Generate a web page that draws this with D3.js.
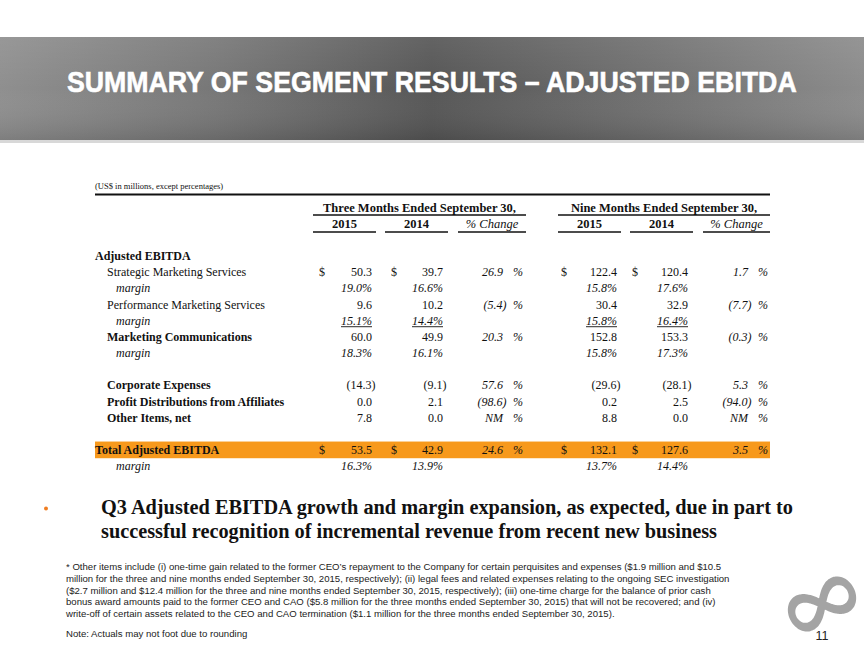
<!DOCTYPE html>
<html><head><meta charset="utf-8">
<script src="https://cdn.jsdelivr.net/npm/d3@7"></script>
<style>
html,body{margin:0;padding:0;background:#fff;}
svg{display:block;}
</style></head>
<body>
<svg id="c" width="864" height="648"></svg>
<script>
// ---------------- DATA ----------------
const titleText = "SUMMARY OF SEGMENT RESULTS \u2013 ADJUSTED EBITDA";
const unitsNote = "(US$ in millions, except percentages)";
const periodHeaders = ["Three Months Ended September 30,", "Nine Months Ended September 30,"];
const subHeaders = ["2015", "2014", "% Change", "2015", "2014", "% Change"];

const rowLabels = ["Adjusted EBITDA", "Strategic Marketing Services", "margin",
  "Performance Marketing Services", "margin", "Marketing Communications", "margin", "",
  "Corporate Expenses", "Profit Distributions from Affiliates", "Other Items, net", "",
  "Total Adjusted EBITDA", "margin"];
const rowKinds = ["section", "item", "margin", "item", "marginU", "itemBold", "margin", "blank",
  "itemBold", "itemBold", "itemBold", "blank", "total", "margin"];
const dollarRows = [1, 12];

const q3_2015   = [null, 50.3, 19.0, 9.6, 15.1, 60.0, 18.3, null, -14.3, 0.0, 7.8, null, 53.5, 16.3];
const q3_2014   = [null, 39.7, 16.6, 10.2, 14.4, 49.9, 16.1, null, -9.1, 2.1, 0.0, null, 42.9, 13.9];
const q3_change = [null, 26.9, null, -5.4, null, 20.3, null, null, 57.6, -98.6, "NM", null, 24.6, null];
const ytd_2015   = [null, 122.4, 15.8, 30.4, 15.8, 152.8, 15.8, null, -29.6, 0.2, 8.8, null, 132.1, 13.7];
const ytd_2014   = [null, 120.4, 17.6, 32.9, 16.4, 153.3, 17.3, null, -28.1, 2.5, 0.0, null, 127.6, 14.4];
const ytd_change = [null, 1.7, null, -7.7, null, -0.3, null, null, 5.3, -94.0, "NM", null, 3.5, null];

const bulletLines = ["Q3 Adjusted EBITDA growth and margin expansion, as expected, due in part to",
  "successful recognition of incremental revenue from recent new business"];
const footnoteLines = [
  "* Other items include (i) one-time gain related to the former CEO\u2019s repayment to the Company for certain perquisites and expenses ($1.9 million and $10.5",
  "million for the three and nine months ended September 30, 2015, respectively); (ii) legal fees and related expenses relating to the ongoing SEC investigation",
  "($2.7 million and $12.4 million for the three and nine months ended September 30, 2015, respectively); (iii) one-time charge for the balance of prior cash",
  "bonus award amounts paid to the former CEO and CAO ($5.8 million for the three months ended September 30, 2015) that will not be recovered; and (iv)",
  "write-off of certain assets related to the CEO and CAO termination ($1.1 million for the three months ended September 30, 2015)."];
const noteText = "Note: Actuals may not foot due to rounding";
const pageNumber = "11";

// ---------------- DRAW ----------------
const svg = d3.select("#c");
const serif = "'Liberation Serif','Times New Roman',serif";
const sans = "'Liberation Sans',Arial,sans-serif";

// header band
const defs = svg.append("defs");
const g1 = defs.append("linearGradient").attr("id","band").attr("x1","0").attr("x2","1").attr("y1","0").attr("y2","0");
[[0,"#8f8f8f"],[0.25,"#777777"],[0.5,"#565656"],[0.75,"#707070"],[1,"#8c8c8c"]].forEach(s=>g1.append("stop").attr("offset",s[0]).attr("stop-color",s[1]));
const g2 = defs.append("linearGradient").attr("id","bandV").attr("x1","0").attr("x2","0").attr("y1","0").attr("y2","1");
[[0,"#fff",0.08],[0.5,"#fff",0],[1,"#000",0.12]].forEach(s=>g2.append("stop").attr("offset",s[0]).attr("stop-color",s[1]).attr("stop-opacity",s[2]));
svg.append("rect").attr("x",0).attr("y",37).attr("width",864).attr("height",103).attr("fill","url(#band)");
svg.append("rect").attr("x",0).attr("y",37).attr("width",864).attr("height",103).attr("fill","url(#bandV)");
svg.append("rect").attr("x",0).attr("y",140).attr("width",864).attr("height",3).attr("fill","#d8d8d8");

// title: natural width measured, then squeezed horizontally with a transform
const title = svg.append("text").attr("x",0).attr("y",0)
  .attr("font-family","'Liberation Sans Narrow','Liberation Sans',Arial,sans-serif").attr("font-weight","bold")
  .attr("font-size",29.5).attr("fill","#ffffff").attr("stroke","#ffffff").attr("stroke-width",0.6).text(titleText);
const tw = title.node().getComputedTextLength();
title.attr("transform",`translate(67,92) scale(${730/tw},1)`);

// scales
const y = d3.scaleBand().domain(d3.range(rowLabels.length)).range([247.9, 474.4]);
const base = i => y(i) + y.bandwidth()/2 + 4;
const colRight = d3.scaleOrdinal().domain(["q3_2015","q3_2014","q3_change","ytd_2015","ytd_2014","ytd_change"])
  .range([372, 443, 503, 617, 688, 748]);
const dollarX = d3.scaleOrdinal().domain(["q3_2015","q3_2014","ytd_2015","ytd_2014"]).range([319, 391, 561, 632]);
const subSpans = [[313,376],[385,448],[458,526],[558,621],[630,693],[703,770]];
const periodSpans = [[313,526],[558,770]];

// units & top rule
svg.append("text").attr("x",95).attr("y",189).attr("font-family",serif).attr("font-size",8.5).attr("fill","#111").text(unitsNote);
svg.append("line").attr("x1",95).attr("x2",770).attr("y1",194.5).attr("y2",194.5).attr("stroke","#111").attr("stroke-width",1.8);

// period headers
svg.selectAll(".ph").data(periodHeaders).enter().append("text")
  .attr("x",(d,i)=>(periodSpans[i][0]+periodSpans[i][1])/2).attr("y",212)
  .attr("text-anchor","middle").attr("font-family",serif).attr("font-weight","bold").attr("font-size",12.5).attr("fill","#111").text(d=>d);
svg.selectAll(".phl").data(periodSpans).enter().append("line")
  .attr("x1",d=>d[0]).attr("x2",d=>d[1]).attr("y1",215).attr("y2",215).attr("stroke","#111").attr("stroke-width",1.3);
svg.selectAll(".sh").data(subHeaders).enter().append("text")
  .attr("x",(d,i)=>(subSpans[i][0]+subSpans[i][1])/2).attr("y",228)
  .attr("text-anchor","middle").attr("font-family",serif)
  .attr("font-weight",d=>d.startsWith("%")?"normal":"bold").attr("font-style",d=>d.startsWith("%")?"italic":"normal")
  .attr("font-size",12.5).attr("fill","#111").text(d=>d);
svg.selectAll(".shl").data(subSpans).enter().append("line")
  .attr("x1",d=>d[0]).attr("x2",d=>d[1]).attr("y1",232).attr("y2",232).attr("stroke","#111").attr("stroke-width",1.3);

// total band
const totalIdx = rowKinds.indexOf("total");
svg.append("rect").attr("x",95).attr("y",y(totalIdx)-0.5).attr("width",675).attr("height",y.bandwidth()+0.5).attr("fill","#f7991c");

// labels
const labelX = k => k==="section"||k==="total" ? 95 : (k.startsWith("margin") ? 116 : 107);
svg.selectAll(".lab").data(rowLabels).enter().append("text")
  .attr("x",(d,i)=>labelX(rowKinds[i])).attr("y",(d,i)=>base(i))
  .attr("font-family",serif).attr("font-size",12).attr("fill","#111")
  .attr("font-weight",(d,i)=>["section","itemBold","total"].includes(rowKinds[i])?"bold":"normal")
  .attr("font-style",(d,i)=>rowKinds[i].startsWith("margin")?"italic":"normal")
  .text(d=>d);

const fmt = v => v<0 ? "(" + Math.abs(v).toFixed(1) + ")" : v.toFixed(1);
function drawValueCol(key, arr){
  const cells = arr.map((v,i)=>({v,i})).filter(d=>d.v!==null);
  const t = svg.selectAll(".v_"+key).data(cells).enter().append("text")
    .attr("x",d=>colRight(key) + (typeof d.v==="number" && d.v<0 && !rowKinds[d.i].startsWith("margin") ? 3.5 : 0))
    .attr("y",d=>base(d.i)).attr("text-anchor","end")
    .attr("font-family",serif).attr("font-size",12).attr("fill","#111")
    .attr("font-style",d=>rowKinds[d.i].startsWith("margin")?"italic":"normal")
    .text(d=>rowKinds[d.i].startsWith("margin") ? d.v.toFixed(1)+"%" : fmt(d.v));
  t.filter(d=>rowKinds[d.i]==="marginU").each(function(d){
    const w = this.getComputedTextLength();
    svg.append("line").attr("x1",colRight(key)-w).attr("x2",colRight(key)).attr("y1",base(d.i)+2).attr("y2",base(d.i)+2)
      .attr("stroke","#111").attr("stroke-width",0.9);
  });
  if (dollarX.domain().includes(key)) {
    svg.selectAll(".d_"+key).data(dollarRows).enter().append("text")
      .attr("x",dollarX(key)).attr("y",d=>base(d)).attr("font-family",serif).attr("font-size",12).attr("fill","#111").text("$");
  }
}
function drawChangeCol(key, arr){
  const cells = arr.map((v,i)=>({v,i})).filter(d=>d.v!==null);
  svg.selectAll(".c_"+key).data(cells).enter().append("text")
    .attr("x",d=>colRight(key) + (typeof d.v==="number" && d.v<0 ? 3.5 : 0)).attr("y",d=>base(d.i)).attr("text-anchor","end")
    .attr("font-family",serif).attr("font-size",12).attr("font-style","italic").attr("fill","#111")
    .text(d=>typeof d.v==="number" ? fmt(d.v) : d.v);
  svg.selectAll(".p_"+key).data(cells).enter().append("text")
    .attr("x",colRight(key)+10).attr("y",d=>base(d.i))
    .attr("font-family",serif).attr("font-size",12).attr("font-style","italic").attr("fill","#111").text("%");
}
drawValueCol("q3_2015", q3_2015);
drawValueCol("q3_2014", q3_2014);
drawChangeCol("q3_change", q3_change);
drawValueCol("ytd_2015", ytd_2015);
drawValueCol("ytd_2014", ytd_2014);
drawChangeCol("ytd_change", ytd_change);

// bullet
svg.append("circle").attr("cx",46).attr("cy",508.5).attr("r",2).attr("fill","#ef7d22");
const bulletLen = [692, 616];
svg.selectAll(".bl").data(bulletLines).enter().append("text")
  .attr("x",101).attr("y",(d,i)=>513.5+i*24.5)
  .attr("textLength",(d,i)=>bulletLen[i]).attr("lengthAdjust","spacingAndGlyphs")
  .attr("font-family",serif).attr("font-weight","bold").attr("font-size",20.5).attr("fill","#111").text(d=>d);

// footnotes
svg.selectAll(".fn").data(footnoteLines).enter().append("text")
  .attr("x",66).attr("y",(d,i)=>570+i*11.8)
  .attr("font-family",sans).attr("font-size",9.6).attr("fill","#222").text(d=>d);
svg.append("text").attr("x",66).attr("y",636.5).attr("font-family",sans).attr("font-size",9.6).attr("fill","#222").text(noteText);

// logo
const lem = d3.range(0, 2*Math.PI, Math.PI/60).map(t=>{
  const s = Math.sin(t), c = Math.cos(t), den = 1 + s*s;
  return [32*c/den, 32*s*c/den];
});
svg.append("path").attr("d", d3.line().curve(d3.curveCardinalClosed)(lem))
  .attr("transform","translate(822,604) rotate(-27) scale(1,1.3)")
  .attr("fill","none").attr("stroke","#a4a4a4").attr("stroke-width",7);
svg.append("text").attr("x",822).attr("y",640).attr("text-anchor","middle").attr("font-family",sans).attr("font-size",12.5).attr("fill","#222").text(pageNumber);
</script>
</body></html>
